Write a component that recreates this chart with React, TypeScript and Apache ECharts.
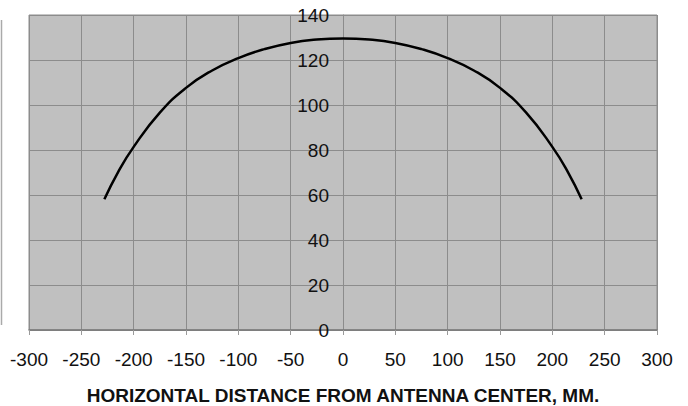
import React, { useEffect, useRef } from "react";
import * as echarts from "echarts";

const distances = [-228, -215, -200, -175, -150, -125, -100, -75, -50, -25, 0, 25, 50, 75, 100, 125, 150, 175, 200, 215, 228];
const heights = [58.1, 70.1, 81.4, 96.6, 107.6, 115.35, 120.85, 124.85, 127.6, 129.1, 129.6, 129.1, 127.6, 124.85, 120.85, 115.35, 107.6, 96.6, 81.4, 70.1, 58.1];
const xTitle = "HORIZONTAL DISTANCE FROM ANTENNA CENTER, MM.";

export default function App() {
  const ref = useRef<HTMLDivElement>(null);
  useEffect(() => {
    if (!ref.current) return;
    const chart = echarts.init(ref.current, undefined, { renderer: "svg" });
    const font = "Arial, 'Liberation Sans', sans-serif";
    chart.setOption({
      animation: false,
      backgroundColor: "#ffffff",
      grid: {
        left: 29,
        right: 31,
        top: 15,
        bottom: 76,
        containLabel: false,
        outerBoundsMode: "none",
        show: true,
        backgroundColor: "#c0c0c0",
        borderColor: "#8c8c8c",
        borderWidth: 1,
      },
      xAxis: {
        type: "value",
        min: -300,
        max: 300,
        interval: 50,
        name: xTitle,
        nameLocation: "middle",
        nameGap: 56,
        nameTextStyle: { fontFamily: font, fontSize: 19, fontWeight: "bold", color: "#111" },
        axisLine: { show: true, onZero: false, lineStyle: { color: "#7a7a7a", width: 1.5 } },
        axisTick: { show: true, length: 5, lineStyle: { color: "#9a9a9a" } },
        axisLabel: { fontFamily: font, fontSize: 19, color: "#111", margin: 20 },
        splitLine: { show: true, lineStyle: { color: "#8c8c8c", width: 1 } },
      },
      yAxis: {
        type: "value",
        position: "left",
        offset: -314,
        min: 0,
        max: 140,
        interval: 20,
        axisLine: { show: true, onZero: false, lineStyle: { color: "#8c8c8c", width: 1 } },
        axisTick: { show: false },
        axisLabel: { fontFamily: font, fontSize: 19, color: "#111", margin: 14 },
        splitLine: { show: true, lineStyle: { color: "#8c8c8c", width: 1 } },
      },
      graphic: [
        {
          type: "line",
          shape: { x1: 1.5, y1: 20, x2: 1.5, y2: 325 },
          style: { stroke: "#aaaaaa", lineWidth: 1.5 },
        },
      ],
      series: [
        {
          type: "line",
          data: distances.map((d, i) => [d, heights[i]]),
          smooth: true,
          showSymbol: false,
          lineStyle: { color: "#000", width: 2.5 },
        },
      ],
    });
    return () => chart.dispose();
  }, []);
  return <div ref={ref} style={{ position: "fixed", left: 0, top: 0, width: 688, height: 406 }} />;
}
